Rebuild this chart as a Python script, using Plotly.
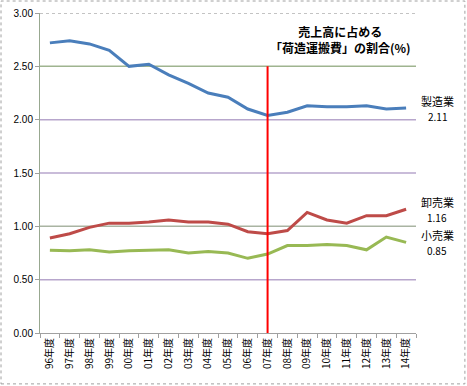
import plotly.graph_objects as go

years = ["96年度", "97年度", "98年度", "99年度", "00年度", "01年度", "02年度", "03年度", "04年度",
         "05年度", "06年度", "07年度", "08年度", "09年度", "10年度", "11年度", "12年度", "13年度", "14年度"]
manufacturing = [2.72, 2.74, 2.71, 2.65, 2.50, 2.52, 2.42, 2.34, 2.25, 2.21, 2.10, 2.04, 2.07, 2.13, 2.12, 2.12, 2.13, 2.10, 2.11]
wholesale = [0.89, 0.93, 0.99, 1.03, 1.03, 1.04, 1.06, 1.04, 1.04, 1.02, 0.95, 0.93, 0.96, 1.13, 1.06, 1.03, 1.10, 1.10, 1.16]
retail = [0.775, 0.77, 0.78, 0.76, 0.77, 0.775, 0.78, 0.75, 0.765, 0.75, 0.70, 0.74, 0.82, 0.82, 0.83, 0.82, 0.78, 0.90, 0.85]
series_names = ["製造業", "卸売業", "小売業"]
marker_year = "07年度"
marker_top = 2.5
y_ticks = [0, 0.5, 1.0, 1.5, 2.0, 2.5, 3.0]

FONT = "Noto Sans CJK JP, Liberation Sans, sans-serif"

fig = go.Figure()
grid_colors = {0.5: "#b7a6cc", 1.0: "#a9b4a2", 1.5: "#b7a6cc", 2.0: "#b7a6cc", 2.5: "#9fb48f", 3.0: "#b0b0b0"}
for v in y_ticks[1:]:
    fig.add_shape(type="line", xref="paper", yref="y", x0=0, x1=1, y0=v, y1=v,
                  line=dict(color=grid_colors[v], width=1.5, dash="dot" if v == 3.0 else "solid"), layer="below")

colors = ["#4a7ebb", "#be4b48", "#98b954"]
for name, vals, c in zip(series_names, [manufacturing, wholesale, retail], colors):
    fig.add_trace(go.Scatter(x=years, y=vals, mode="lines", name=name,
                             line=dict(color=c, width=3), showlegend=False))

fig.add_shape(type="line", xref="x", yref="y", x0=marker_year, x1=marker_year, y0=0, y1=marker_top,
              line=dict(color="#ff0000", width=2))

# Outer chart frame
fig.add_shape(type="rect", xref="paper", yref="paper", x0=-0.1037, x1=1.130, y0=-0.159, y1=1.0375,
              line=dict(color="#a0a0a0", width=1, dash="dot"))

fig.add_annotation(xref="paper", yref="paper", x=0.798, y=0.916, xanchor="center", yanchor="middle",
                   text="<b>売上高に占める<br>「荷造運搬費」の割合(%)</b>", showarrow=False,
                   font=dict(family=FONT, size=12, color="#000"), align="center")

label_pos = [(101, 117), (202, 217), (235, 250)]
for name, vals, (y1, y2) in zip(series_names, [manufacturing, wholesale, retail], label_pos):
    fig.add_annotation(xref="paper", yref="paper", x=(437 - 40) / 376, y=(333 - y1) / 320,
                       xanchor="center", yanchor="middle",
                       text=name, showarrow=False, font=dict(family=FONT, size=11, color="#000"))
    fig.add_annotation(xref="paper", yref="paper", x=(437 - 40) / 376, y=(333 - y2) / 320,
                       xanchor="center", yanchor="middle",
                       text=f"{vals[-1]:.2f}", showarrow=False, font=dict(family=FONT, size=10, color="#000"))

fig.update_layout(
    width=467, height=386,
    margin=dict(l=40, r=51, t=13, b=53, autoexpand=False),
    plot_bgcolor="white", paper_bgcolor="white",
    font=dict(family=FONT, size=10, color="#000"),
    xaxis=dict(type="category", tickangle=-90, showgrid=False, showline=True, linecolor="#a0a0a0",
               linewidth=1, ticks="outside", tickson="boundaries", ticklen=4, tickcolor="#a0a0a0",
               tickfont=dict(family=FONT, size=10), range=[-0.5, len(years) - 0.5], automargin=False),
    yaxis=dict(range=[0, 3.0], tickvals=y_ticks, tickformat=".2f", showgrid=False, zeroline=False,
               showline=True, linecolor="#98a890", linewidth=1, ticks="outside", ticklen=4,
               tickcolor="#a0a0a0", tickfont=dict(family="Liberation Sans, sans-serif", size=10),
               automargin=False),
)

fig.write_html("out.html", config={"displayModeBar": False},
               post_script="document.body.style.margin='0px';document.body.style.overflow='hidden';")
